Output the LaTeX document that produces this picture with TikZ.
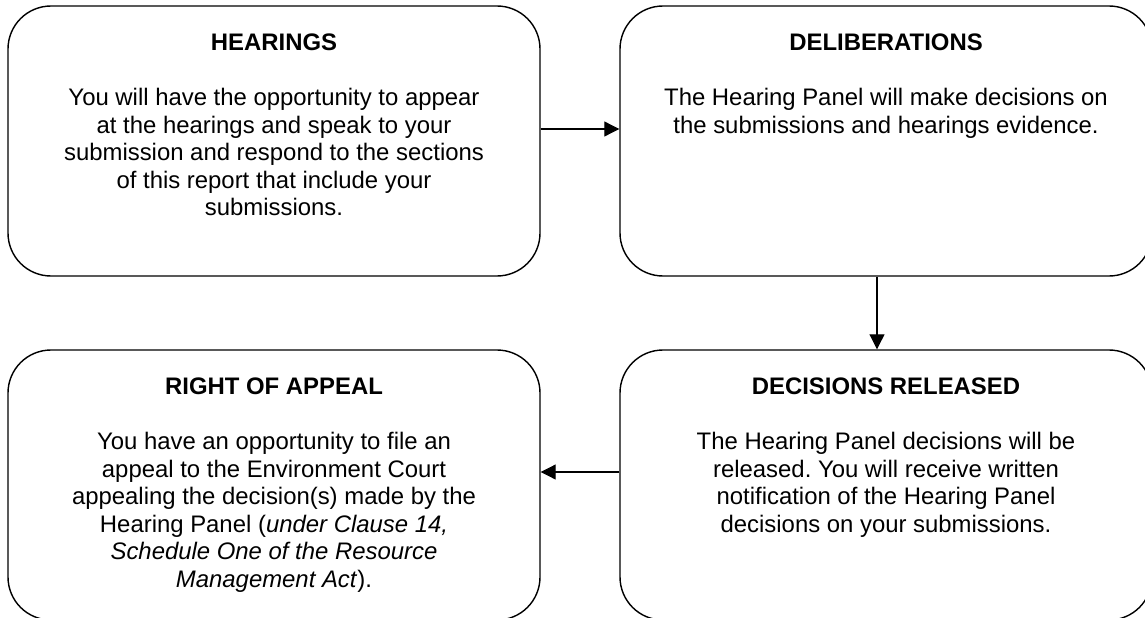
\documentclass[tikz,border=0pt]{standalone}
\usepackage{fontspec}
\setmainfont{Liberation Sans}
\usetikzlibrary{shapes,arrows.meta,calc}
\frenchspacing

\tikzset{
  stage/.style={draw,line width=0.8pt,rounded corners=0.86cm,minimum width=10.64cm,minimum height=5.4cm,inner sep=0pt},
  stagetext/.style={anchor=north,inner sep=0pt,align=center,font=\fontsize{13.6}{15.65}\selectfont},
  flow/.style={line width=0.6pt,-{Triangle[length=3mm,width=3mm]}}
}

\begin{document}
\begin{tikzpicture}
        \useasboundingbox (0,0) rectangle (22.9,-12.36);

        % the four stages
        \node[stage] (hearings) at (5.48,-2.82) {};
        \node[stage] (deliberations) at (17.72,-2.82) {};
        \node[stage] (appeal) at (5.48,-9.70) {};
        \node[stage] (released) at (17.72,-9.70) {};

        \node[stagetext] (hearingsText) at ([yshift=-0.57cm]hearings.north) {\textbf{HEARINGS}\\[0.55cm]
          You will have the opportunity to appear\\ at the hearings and speak to your\\ submission and respond to the sections\\ of this report that include your\\ submissions.};
        \node[stagetext] (deliberationsText) at ([yshift=-0.57cm]deliberations.north) {\textbf{DELIBERATIONS}\\[0.55cm]
          The Hearing Panel will make decisions on\\ the submissions and hearings evidence.};
        \node[stagetext] (appealText) at ([yshift=-0.57cm]appeal.north) {\textbf{RIGHT OF APPEAL}\\[0.55cm]
          You have an opportunity to file an\\ appeal to the Environment Court\\ appealing the decision(s) made by the\\ Hearing Panel (\textit{under Clause 14,}\\ \textit{Schedule One of the Resource}\\ \textit{Management Act}).};
        \node[stagetext] (releasedText) at ([yshift=-0.57cm]released.north) {\textbf{DECISIONS RELEASED}\\[0.55cm]
          The Hearing Panel decisions will be\\ released. You will receive written\\ notification of the Hearing Panel\\ decisions on your submissions.};

        % flow between stages
        \draw[flow] ([yshift=0.24cm]hearings.east) -- ([yshift=0.24cm]deliberations.west);
        \draw[flow] ([xshift=-0.18cm]deliberations.south) -- ([xshift=-0.18cm]released.north);
        \draw[flow] ([yshift=0.26cm]released.west) -- ([yshift=0.26cm]appeal.east);

      \end{tikzpicture}
\end{document}
